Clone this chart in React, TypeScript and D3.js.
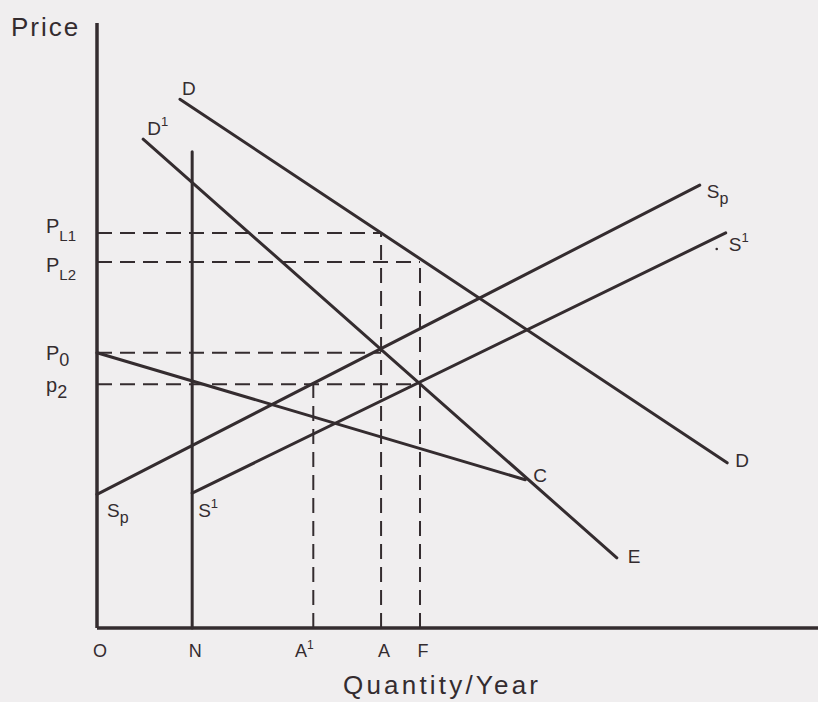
import { useEffect } from 'react';
import * as d3 from 'd3';

// Supply / demand diagram: world price vs. protected market.
// All values are in chart units (quantity 0-100, price 0-100).

const W = 818;
const H = 702;

const INK = '#342c2f';
const BG = '#f0eeef';
const FONT = '"Liberation Sans", Arial, Helvetica, sans-serif';

// quantity markers on the x axis
const qtyNames = ['O', 'A', 'N', 'A', 'F'];
const qtySup = ['', '1', '', '', ''];
const qtyValues = [0, 30, 13.2, 39.4, 44.8];

// price levels on the y axis
const priceNames = ['P', 'P', 'P', 'p'];
const priceSubs = ['L1', 'L2', '0', '2'];
const priceValues = [65.3, 60.5, 45.5, 40.3];

// curves as [q, p] end points
const demandD: [number, number][] = [[11.5, 87.4], [87.4, 27.3]];
const demandD1: [number, number][] = [[6.4, 80.8], [72.1, 11.6]];
const supplySp: [number, number][] = [[0, 22.1], [83.6, 73.2]];
const supplyS1: [number, number][] = [[13.2, 22.3], [87.2, 65.3]];
const worldLine: [number, number][] = [[0, 45.5], [59.4, 24.5]];
const quotaN: [number, number][] = [[13.2, 0], [13.2, 78.7]];

// dashed guides: [quantity, price] corners
const guideH: [number, number][] = [[39.4, 65.3], [44.8, 60.5], [39.4, 45.5], [44.8, 40.3]];
const guideV: [number, number][] = [[39.4, 65.3], [44.8, 60.5], [30, 40.3]];

const x = d3.scaleLinear().domain([0, 100]).range([97, 818]);
const y = d3.scaleLinear().domain([0, 100]).range([628, 23]);

const line = d3
  .line<[number, number]>()
  .x((d) => x(d[0]))
  .y((d) => y(d[1]));

// small nudges for hand-placed price labels (px)
const PRICE_DY = [0, 10, 7, 8];

export default function App() {
  useEffect(() => {
    document.body.style.margin = '0';
    document.body.style.background = BG;
  }, []);

  const solid = { stroke: INK, strokeWidth: 3, fill: 'none', strokeLinecap: 'round' as const };
  const dashed = { stroke: INK, strokeWidth: 2, fill: 'none', strokeDasharray: '15 8' };

  const P = (c: [number, number][], i: number) => [x(c[i][0]), y(c[i][1])];
  const [dS, dE] = [P(demandD, 0), P(demandD, 1)];
  const [d1S, d1E] = [P(demandD1, 0), P(demandD1, 1)];
  const [spS, spE] = [P(supplySp, 0), P(supplySp, 1)];
  const [s1S, s1E] = [P(supplyS1, 0), P(supplyS1, 1)];
  const cPt = P(worldLine, 1);

  return (
    <svg
      width={W}
      height={H}
      style={{ position: 'absolute', left: 0, top: 0, background: BG, fontFamily: FONT }}
    >
      <rect width={W} height={H} fill={BG} />

      {/* axes */}
      <line x1={x(0)} y1={y(100)} x2={x(0)} y2={y(0)} stroke={INK} strokeWidth={3.5} />
      <line x1={x(0)} y1={y(0)} x2={x(100)} y2={y(0)} stroke={INK} strokeWidth={3.5} />

      {/* dashed guides */}
      {guideH.map((g, i) => (
        <path key={'h' + i} d={line([[0, g[1]], g])!} {...dashed} />
      ))}
      {guideV.map((g, i) => (
        <path key={'v' + i} d={line([[g[0], 0], g])!} {...dashed} />
      ))}

      {/* curves */}
      <path d={line(quotaN)!} {...solid} />
      <path d={line(demandD)!} {...solid} />
      <path d={line(demandD1)!} {...solid} />
      <path d={line(supplySp)!} {...solid} />
      <path d={line(supplyS1)!} {...solid} />
      <path d={line(worldLine)!} {...solid} />

      {/* axis titles */}
      <text x={11} y={36} fontSize={26} fill={INK} letterSpacing={2}>Price</text>
      <text x={343} y={694} fontSize={26} fill={INK} letterSpacing={3.2}>
        Quantity/Year
      </text>

      {/* quantity markers */}
      {qtyNames.map((n, i) => (
        <text
          key={'q' + i}
          x={x(qtyValues[i]) + (qtySup[i] ? -9 : 3)}
          y={657}
          fontSize={18}
          fill={INK}
          textAnchor="middle"
        >
          {n}
          {qtySup[i] && (
            <tspan fontSize={12} dy={-8}>
              {qtySup[i]}
            </tspan>
          )}
        </text>
      ))}

      {/* price markers */}
      {priceNames.map((n, i) => (
        <text key={'p' + i} x={46} y={y(priceValues[i]) + PRICE_DY[i]} fontSize={20} fill={INK}>
          {n}
          <tspan fontSize={i < 2 ? 15 : 18} dy={i < 2 ? 8 : 6}>
            {priceSubs[i]}
          </tspan>
        </text>
      ))}

      {/* curve labels */}
      <text x={dS[0] + 2} y={dS[1] - 4} fontSize={19} fill={INK}>D</text>
      <text x={dE[0] + 8} y={dE[1] + 4} fontSize={19} fill={INK}>D</text>
      <text x={d1S[0] + 4} y={d1S[1] - 4} fontSize={19} fill={INK}>
        D<tspan fontSize={13} dy={-9}>1</tspan>
      </text>
      <text x={d1E[0] + 11} y={d1E[1] + 5} fontSize={19} fill={INK}>E</text>
      <text x={cPt[0] + 8} y={cPt[1] + 2} fontSize={19} fill={INK}>C</text>

      <text x={spE[0] + 7} y={spE[1] + 13} fontSize={19} fill={INK}>
        S<tspan fontSize={16} dy={6}>p</tspan>
      </text>
      <text x={spS[0] + 10} y={spS[1] + 23} fontSize={19} fill={INK}>
        S<tspan fontSize={16} dy={6}>p</tspan>
      </text>
      <circle cx={s1E[0] - 9} cy={s1E[1] + 16} r={1.3} fill={INK} />
      <text x={s1E[0] + 3} y={s1E[1] + 18} fontSize={19} fill={INK}>
        S<tspan fontSize={13} dy={-9}>1</tspan>
      </text>
      <text x={s1S[0] + 6} y={s1S[1] + 24} fontSize={19} fill={INK}>
        S<tspan fontSize={13} dy={-9}>1</tspan>
      </text>
    </svg>
  );
}
